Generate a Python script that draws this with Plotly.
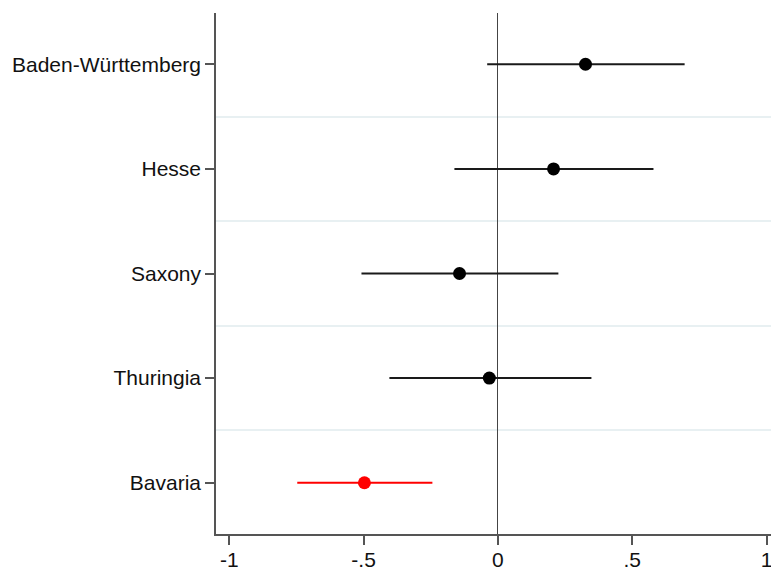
import plotly.graph_objects as go

states = ["Bavaria", "Thuringia", "Saxony", "Hesse", "Baden-Württemberg"]
estimates = [-0.497, -0.032, -0.143, 0.207, 0.326]
ci_low = [-0.747, -0.404, -0.508, -0.162, -0.040]
ci_high = [-0.244, 0.348, 0.225, 0.579, 0.695]
highlight = ["Bavaria"]
x_ticks = [-1, -0.5, 0, 0.5, 1]
x_tick_labels = ["-1", "-.5", "0", ".5", "1"]

pos = list(range(len(states)))

fig = go.Figure()
for is_hl, color in [(False, "#1a1a1a"), (True, "#ff0000")]:
    idx = [i for i, s in enumerate(states) if (s in highlight) == is_hl]
    fig.add_trace(go.Scatter(
        x=[estimates[i] for i in idx],
        y=[pos[i] for i in idx],
        mode="markers",
        marker=dict(size=13, color="#000000" if not is_hl else "#ff0000"),
        error_x=dict(
            type="data", symmetric=False,
            array=[ci_high[i] - estimates[i] for i in idx],
            arrayminus=[estimates[i] - ci_low[i] for i in idx],
            width=0, thickness=2, color=color,
        ),
        showlegend=False,
        hoverinfo="skip",
    ))

fig.update_layout(
    width=771, height=572,
    margin=dict(l=216, r=0, t=13, b=38),
    plot_bgcolor="white", paper_bgcolor="white",
    font=dict(family="Liberation Sans, Arial, sans-serif", size=21, color="#111111"),
    xaxis=dict(
        range=[-1.0495, 1.0165],
        tickvals=x_ticks, ticktext=x_tick_labels,
        showgrid=False,
        zeroline=True, zerolinecolor="#444444", zerolinewidth=1.3,
        showline=True, linecolor="#555555", linewidth=1.5,
        ticks="outside", ticklen=9, tickcolor="#555555", tickwidth=1.5,
        tickfont=dict(size=21),
        ticklabeloverflow="allow",
        ticklabelstandoff=-3,
        automargin=False,
    ),
    yaxis=dict(
        range=[-0.49, 4.49],
        tickvals=pos, ticktext=states,
        showgrid=False, zeroline=False,
        showline=True, linecolor="#555555", linewidth=1.5,
        ticks="outside", ticklen=9, tickcolor="#555555", tickwidth=1.5,
        tickfont=dict(size=21),
        automargin=False,
        minor=dict(tickvals=[p + 0.5 for p in pos[:-1]], showgrid=True,
                   gridcolor="#e8f0f2", gridwidth=1.5, ticks=""),
    ),
)

fig.write_html(
    "out.html",
    config={"displayModeBar": False},
    post_script="document.body.style.margin='0';document.body.style.overflow='hidden';",
)
